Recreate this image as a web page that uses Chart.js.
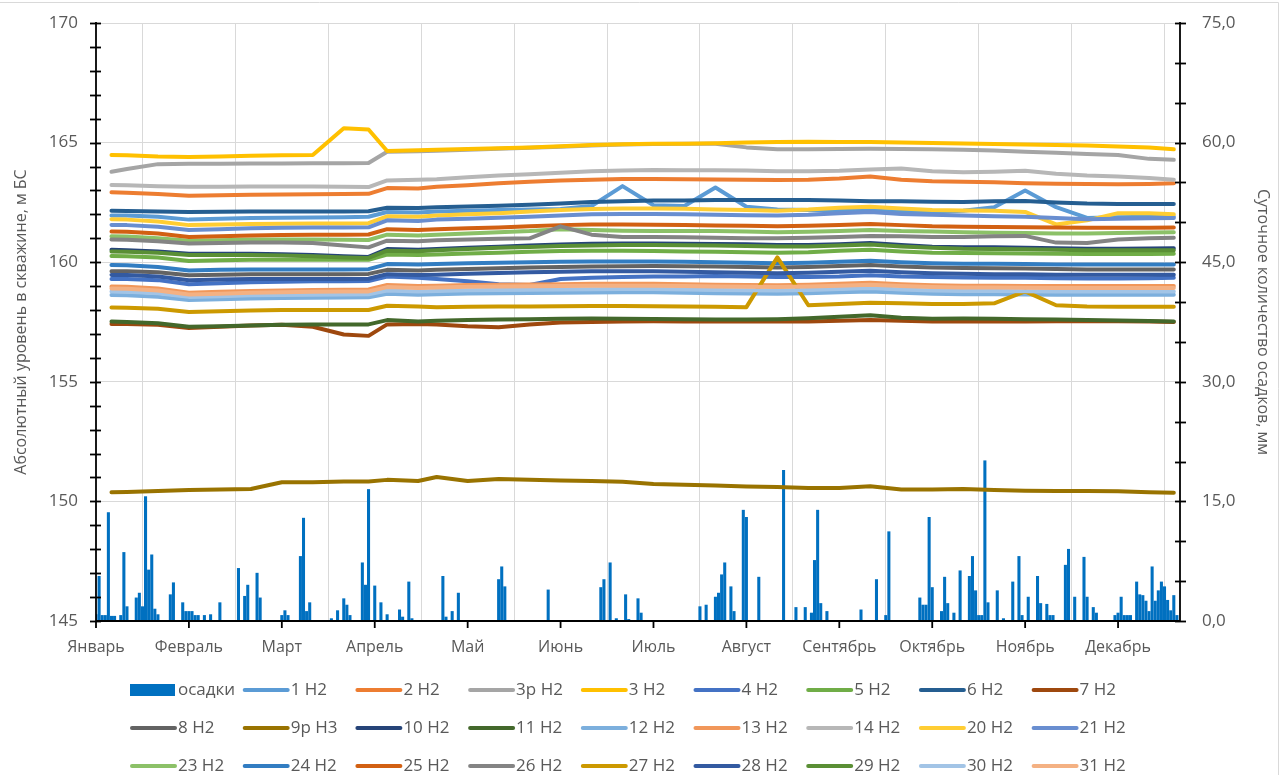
<!DOCTYPE html>
<html><head><meta charset="utf-8">
<script src="https://cdn.jsdelivr.net/npm/chart.js@4.4.1/dist/chart.umd.min.js"></script>
<style>html,body{margin:0;padding:0;background:#fff}#wrap{width:1284px;height:775px;position:relative}</style>
</head><body><div id="wrap"><canvas id="c"></canvas></div>
<script>
// ---- categories / ticks ----
const months = ['Январь','Февраль','Март','Апрель','Май','Июнь','Июль','Август','Сентябрь','Октябрь','Ноябрь','Декабрь'];
const monthStarts = [0,30,60,90,120,150,180,210,240,270,300,330];
const lineDays = [5,10,20,30,40,50,60,70,80,88,94,104,110,120,130,140,150,160,170,180,190,200,210,220,230,240,250,260,270,280,290,300,310,320,330,340,348];

// ---- precipitation (day index, mm) ----
const precipDay = [0,1,2,3,4,5,6,8,9,10,13,14,15,16,17,18,19,20,24,25,28,29,30,31,32,33,35,37,40,46,48,49,52,53,60,61,62,66,67,68,69,76,78,80,81,82,86,87,88,90,92,94,98,99,101,102,112,113,115,117,130,131,132,146,163,164,166,168,171,172,175,176,195,197,200,201,202,203,205,206,209,210,214,222,226,229,231,232,233,234,236,247,252,255,256,266,267,268,269,270,273,274,275,277,279,282,283,284,285,286,287,288,291,293,296,298,299,301,304,305,307,308,309,313,314,316,319,320,322,323,329,330,331,332,333,334,336,337,338,339,340,341,342,343,344,345,346,347,348,349];
const precipMm = [0.8,5.6,0.7,0.7,13.6,0.6,0.6,0.7,8.6,1.8,2.9,3.5,1.8,15.6,6.4,8.3,1.5,0.8,3.3,4.8,2.3,1.2,1.2,1.2,0.7,0.7,0.7,0.8,2.3,6.6,3.1,4.5,6.0,2.9,0.7,1.3,0.7,8.1,12.9,1.2,2.3,0.3,1.3,2.8,2.0,0.7,7.3,4.5,16.5,4.4,2.3,0.8,1.4,0.5,4.9,0.3,5.6,0.5,1.2,3.5,5.2,6.8,4.3,3.9,4.2,5.2,7.3,0.3,3.3,0.2,2.8,1.0,1.8,2.0,3.0,3.5,5.8,7.3,4.3,1.2,13.9,13.0,5.5,18.9,1.7,1.7,1.0,7.6,13.9,2.2,1.2,1.4,5.2,0.7,11.2,2.9,2.0,2.0,13.0,4.2,1.2,5.5,2.2,1.0,6.3,5.6,8.1,3.8,0.7,0.7,20.1,2.3,3.8,0.3,4.9,8.1,0.7,3.0,5.6,2.2,2.1,0.7,0.7,7.0,9.0,3.0,8.0,3.0,1.7,1.0,0.7,1.0,3.0,0.7,0.7,0.7,4.9,3.3,3.2,2.5,1.2,6.8,2.5,3.8,4.9,4.3,2.6,1.3,3.2,0.7];

// ---- well levels, m BS ----
const w1 = [161.95,161.95,161.90,161.78,161.82,161.85,161.86,161.87,161.88,161.90,162.10,162.08,162.12,162.15,162.18,162.20,162.22,162.35,163.18,162.38,162.35,163.12,162.32,162.20,162.18,162.15,162.15,162.12,162.10,162.15,162.30,163.00,162.30,161.85,161.88,161.90,161.90];
const w2 = [162.92,162.90,162.85,162.78,162.80,162.82,162.83,162.84,162.85,162.86,163.10,163.08,163.15,163.22,163.30,163.36,163.42,163.45,163.48,163.48,163.47,163.46,163.45,163.44,163.45,163.50,163.58,163.45,163.38,163.36,163.34,163.30,163.28,163.27,163.26,163.27,163.30];
const w3p = [163.78,163.90,164.10,164.12,164.12,164.13,164.13,164.14,164.14,164.15,164.62,164.64,164.66,164.70,164.74,164.78,164.83,164.88,164.92,164.94,164.95,164.95,164.80,164.72,164.72,164.73,164.74,164.73,164.72,164.70,164.67,164.62,164.58,164.52,164.48,164.32,164.28];
const w3 = [164.48,164.47,164.42,164.40,164.42,164.45,164.47,164.48,165.60,165.55,164.65,164.68,164.70,164.73,164.76,164.80,164.85,164.90,164.93,164.95,164.95,164.97,165.00,165.02,165.04,165.03,165.02,165.00,164.98,164.96,164.94,164.92,164.90,164.88,164.84,164.80,164.72];
const w4 = [159.30,159.30,159.25,159.08,159.12,159.16,159.18,159.20,159.20,159.21,159.40,159.35,159.30,159.20,159.08,159.05,159.30,159.35,159.38,159.40,159.40,159.42,159.40,159.38,159.38,159.40,159.45,159.40,159.38,159.36,159.35,159.35,159.33,159.32,159.32,159.33,159.35];
const w5 = [160.26,160.25,160.20,160.05,160.08,160.10,160.10,160.10,160.10,160.10,160.32,160.30,160.32,160.36,160.40,160.44,160.47,160.48,160.48,160.47,160.45,160.44,160.42,160.40,160.42,160.48,160.52,160.45,160.40,160.38,160.37,160.36,160.35,160.34,160.34,160.34,160.35];
const w6 = [162.15,162.14,162.12,162.10,162.11,162.12,162.12,162.12,162.12,162.13,162.28,162.27,162.30,162.33,162.36,162.40,162.45,162.52,162.55,162.58,162.58,162.60,162.60,162.60,162.60,162.58,162.55,162.55,162.53,162.52,162.55,162.56,162.50,162.45,162.43,162.43,162.43];
const w7 = [157.42,157.42,157.38,157.25,157.30,157.35,157.38,157.30,156.98,156.92,157.40,157.42,157.40,157.32,157.28,157.40,157.48,157.50,157.52,157.53,157.52,157.52,157.52,157.52,157.52,157.55,157.58,157.55,157.52,157.52,157.52,157.52,157.53,157.53,157.53,157.52,157.50];
const w8 = [159.62,159.62,159.58,159.45,159.48,159.50,159.50,159.50,159.50,159.51,159.68,159.65,159.68,159.72,159.75,159.78,159.80,159.82,159.83,159.84,159.83,159.82,159.80,159.78,159.80,159.84,159.88,159.82,159.78,159.76,159.75,159.74,159.72,159.70,159.70,159.70,159.70];
const w9p = [150.38,150.39,150.43,150.48,150.50,150.52,150.80,150.80,150.83,150.83,150.90,150.85,151.02,150.85,150.94,150.90,150.87,150.85,150.82,150.73,150.70,150.66,150.62,150.60,150.56,150.56,150.63,150.50,150.50,150.52,150.48,150.45,150.44,150.43,150.42,150.38,150.36];
const w10 = [160.52,160.50,160.45,160.35,160.35,160.35,160.33,160.30,160.25,160.22,160.55,160.52,160.55,160.60,160.65,160.70,160.74,160.77,160.78,160.78,160.77,160.76,160.75,160.72,160.72,160.75,160.80,160.72,160.65,160.62,160.62,160.60,160.58,160.56,160.56,160.57,160.58];
const w11 = [157.52,157.50,157.45,157.30,157.32,157.35,157.38,157.40,157.40,157.40,157.58,157.52,157.55,157.58,157.60,157.62,157.64,157.65,157.64,157.63,157.62,157.60,157.60,157.62,157.66,157.72,157.78,157.68,157.64,157.65,157.64,157.62,157.60,157.58,157.56,157.54,157.52];
const w12 = [158.63,158.62,158.56,158.42,158.45,158.48,158.50,158.51,158.52,158.53,158.68,158.64,158.66,158.69,158.70,158.71,158.72,158.73,158.74,158.74,158.72,158.70,158.69,158.68,158.70,158.74,158.78,158.72,158.68,158.66,158.66,158.65,158.64,158.64,158.64,158.64,158.64];
const w13 = [158.98,158.97,158.90,158.72,158.76,158.80,158.82,158.84,158.85,158.86,159.05,159.00,159.02,159.05,159.06,159.07,159.08,159.10,159.10,159.10,159.08,159.06,159.05,159.04,159.06,159.10,159.14,159.08,159.04,159.02,159.02,159.01,159.00,159.00,159.00,159.00,159.00];
const w14 = [163.23,163.22,163.18,163.15,163.15,163.16,163.16,163.16,163.15,163.14,163.42,163.45,163.47,163.55,163.62,163.68,163.74,163.80,163.83,163.85,163.84,163.84,163.83,163.80,163.80,163.82,163.88,163.92,163.80,163.76,163.78,163.82,163.70,163.62,163.58,163.52,163.45];
const w20 = [161.80,161.78,161.70,161.55,161.58,161.60,161.61,161.62,161.62,161.63,161.92,161.90,161.95,162.00,162.05,162.12,162.18,162.22,162.24,162.25,162.23,162.20,162.18,162.15,162.20,162.28,162.32,162.25,162.18,162.16,162.15,162.10,161.58,161.75,162.05,162.05,162.00];
const w21 = [161.56,161.55,161.48,161.35,161.38,161.42,161.44,161.45,161.45,161.46,161.75,161.72,161.78,161.82,161.86,161.90,161.95,162.00,162.02,162.02,162.00,161.98,161.96,161.95,161.98,162.05,162.10,162.02,161.98,161.95,161.92,161.90,161.85,161.80,161.82,161.84,161.85];
const w23 = [161.08,161.07,161.00,160.90,160.92,160.95,160.95,160.95,160.94,160.93,161.15,161.12,161.15,161.20,161.25,161.30,161.38,161.35,161.32,161.30,161.30,161.30,161.28,161.25,161.27,161.30,161.35,161.30,161.28,161.25,161.23,161.22,161.20,161.20,161.22,161.24,161.25];
const w24 = [159.88,159.87,159.80,159.65,159.68,159.70,159.70,159.70,159.70,159.71,159.92,159.90,159.92,159.96,159.98,160.00,160.02,160.03,160.03,160.03,160.02,160.00,159.98,159.96,159.98,160.02,160.06,160.00,159.96,159.94,159.93,159.92,159.90,159.90,159.90,159.90,159.90];
const w25 = [161.28,161.27,161.20,161.05,161.08,161.12,161.14,161.15,161.15,161.16,161.38,161.35,161.38,161.42,161.45,161.50,161.55,161.58,161.58,161.57,161.55,161.53,161.52,161.50,161.52,161.56,161.60,161.55,161.50,161.48,161.47,161.46,161.45,161.44,161.44,161.44,161.45];
const w26 = [160.95,160.94,160.88,160.78,160.80,160.82,160.82,160.80,160.70,160.62,160.90,160.88,160.92,160.95,160.98,161.00,161.50,161.15,161.05,161.05,161.04,161.02,161.00,161.00,161.02,161.05,161.10,161.08,161.05,161.05,161.08,161.10,160.82,160.80,160.95,161.00,161.02];
const w27 = [158.11,158.10,158.05,157.92,157.95,157.98,158.00,158.00,158.00,158.00,158.18,158.15,158.12,158.14,158.15,158.15,158.16,158.17,158.17,158.16,158.15,158.14,158.12,160.20,158.20,158.25,158.30,158.28,158.25,158.25,158.28,158.78,158.20,158.15,158.14,158.14,158.14];
const w28 = [159.47,159.46,159.40,159.25,159.28,159.30,159.30,159.30,159.30,159.31,159.50,159.46,159.48,159.52,159.55,159.58,159.60,159.62,159.62,159.62,159.60,159.58,159.56,159.54,159.56,159.60,159.64,159.58,159.54,159.52,159.50,159.50,159.48,159.48,159.48,159.48,159.48];
const w29 = [160.45,160.44,160.40,160.30,160.30,160.30,160.28,160.25,160.20,160.18,160.48,160.46,160.50,160.55,160.60,160.64,160.68,160.70,160.72,160.72,160.71,160.70,160.68,160.66,160.66,160.70,160.74,160.66,160.60,160.56,160.55,160.54,160.52,160.50,160.50,160.50,160.50];
const w30 = [158.77,158.76,158.70,158.55,158.58,158.62,158.63,158.64,158.65,158.66,158.82,158.78,158.80,158.83,158.84,158.85,158.86,158.87,158.88,158.88,158.86,158.84,158.83,158.82,158.84,158.88,158.92,158.86,158.82,158.80,158.80,158.79,158.78,158.78,158.78,158.78,158.78];
const w31 = [158.90,158.89,158.82,158.65,158.68,158.72,158.74,158.76,158.77,158.78,158.96,158.92,158.94,158.97,158.98,158.99,159.00,159.02,159.02,159.02,159.00,158.98,158.97,158.96,158.98,159.02,159.06,159.00,158.96,158.94,158.94,158.93,158.92,158.92,158.92,158.92,158.92];

const seriesNames = ['1 H2','2 H2','3р H2','3 H2','4 H2','5 H2','6 H2','7 H2','8 H2','9р H3','10 H2','11 H2','12 H2','13 H2','14 H2','20 H2','21 H2','23 H2','24 H2','25 H2','26 H2','27 H2','28 H2','29 H2','30 H2','31 H2'];
const seriesValues = [w1,w2,w3p,w3,w4,w5,w6,w7,w8,w9p,w10,w11,w12,w13,w14,w20,w21,w23,w24,w25,w26,w27,w28,w29,w30,w31];
const seriesColors = ['#5B9BD5','#ED7D31','#A5A5A5','#FFC000','#4472C4','#70AD47','#255E91','#9E480E','#636363','#997300','#264478','#43682B','#7CAFDD','#F1975A','#B7B7B7','#FFCD33','#698ED0','#8CC168','#327DC2','#D26012','#848484','#CC9900','#335AA1','#5A8F35','#A2C4E6','#F4B183'];
const barName = 'осадки', barColor = '#0070C0';

const FONT = '"Open Sans", "Noto Sans", sans-serif';
const TXT = '#595959';

const datasets = [{
  type:'bar', label:barName, data: precipDay.map((d,i)=>({x:d,y:precipMm[i]})),
  backgroundColor:barColor, yAxisID:'y2', barThickness:2.4, order:1000
}];
seriesNames.forEach((n,k)=>{
  datasets.push({type:'line', label:n, data: lineDays.map((d,i)=>({x:d,y:seriesValues[k][i]})),
    borderColor:seriesColors[k], backgroundColor:seriesColors[k], borderWidth:4, pointRadius:0,
    tension:0, borderJoinStyle:'round', borderCapStyle:'round', yAxisID:'y', order:100-k});
});

const deco = {
  id:'deco',
  beforeDraw(chart){
    const ctx = chart.ctx;
    ctx.save(); ctx.strokeStyle='#D9D9D9'; ctx.lineWidth=1;
    ctx.beginPath(); ctx.moveTo(0,2.5); ctx.lineTo(1278.5,2.5); ctx.lineTo(1278.5,775); ctx.stroke();
    ctx.restore();
  },
  afterDatasetsDraw(chart){
    const {ctx, chartArea:a, scales} = chart;
    const y=scales.y, y2=scales.y2, x=scales.x;
    ctx.save();
    ctx.strokeStyle='#000'; ctx.lineWidth=1.8; ctx.lineCap='butt';
    const L=(x1,y1,x2,y2_)=>{ctx.beginPath();ctx.moveTo(x1,y1);ctx.lineTo(x2,y2_);ctx.stroke();};
    L(a.left,a.top-1,a.left,a.bottom+1);
    for(let v=145; v<=170; v++){const p=Math.round(y.getPixelForValue(v))+0.5; L(a.left-6,p,a.left+5,p);}
    L(a.right,a.top-1,a.right,a.bottom+1);
    for(let v=0; v<=75; v+=5){const p=Math.round(y2.getPixelForValue(v))+0.5; L(a.right-5,p,a.right+6,p);}
    L(a.left,a.bottom,a.right,a.bottom);
    monthStarts.forEach(m=>{const p=x.getPixelForValue(m); L(p,a.bottom,p,a.bottom+7);});
    ctx.restore();
  },
  afterDraw(chart){
    const ctx = chart.ctx;
    ctx.save();
    ctx.font = '17px '+FONT; ctx.textBaseline='middle'; ctx.fillStyle=TXT;
    const items = [{t:barName,c:barColor,bar:true}].concat(seriesNames.map((n,k)=>({t:n,c:seriesColors[k]})));
    const x0=130, pitch=112.7, rows=[690,728,766];
    items.forEach((it,i)=>{
      const r=Math.floor(i/9), col=i%9, xx=x0+col*pitch, yy=rows[r];
      if(it.bar){ ctx.fillStyle=it.c; ctx.fillRect(xx,yy-6,45,12); }
      else { ctx.strokeStyle=it.c; ctx.lineWidth=4; ctx.lineCap='round'; ctx.beginPath(); ctx.moveTo(xx+2,yy); ctx.lineTo(xx+45,yy); ctx.stroke(); }
      ctx.fillStyle=TXT; ctx.fillText(it.t, xx+48, yy);
    });
    ctx.restore();
  }
};

new Chart(document.getElementById('c'), {
  data:{datasets},
  options:{
    responsive:true, maintainAspectRatio:false, animation:false,
    layout:{padding:{top:23,left:0,right:0,bottom:0}},
    plugins:{legend:{display:false}, tooltip:{enabled:false}},
    scales:{
      x:{type:'linear', min:0, max:350, offset:false,
        afterBuildTicks:s=>{s.ticks=monthStarts.map(v=>({value:v}));},
        afterFit:s=>{s.height=154; s.paddingLeft=0; s.paddingRight=0;},
        ticks:{autoSkip:false, maxRotation:0, padding:17, color:TXT, font:{family:FONT,size:16},
          callback:(v,i)=>months[i]},
        grid:{color:'#D9D9D9', lineWidth:1, drawTicks:false}, border:{display:false}},
      y:{position:'left', min:145, max:170,
        afterFit:s=>{s.width=96; s.paddingTop=0; s.paddingBottom=0;},
        ticks:{stepSize:5, padding:18, color:TXT, font:{family:FONT,size:17}},
        grid:{color:'#D9D9D9', lineWidth:1, drawTicks:false}, border:{display:false},
        title:{display:true, text:'Абсолютный уровень в скважине, м БС', color:TXT, font:{family:FONT,size:16}, padding:{top:12,bottom:0}}},
      y2:{position:'right', min:0, max:75,
        afterFit:s=>{s.width=104; s.paddingTop=0; s.paddingBottom=0;},
        ticks:{stepSize:15, padding:22, color:TXT, font:{family:FONT,size:17}, callback:v=>v.toFixed(1).replace('.',',')},
        grid:{drawOnChartArea:false, drawTicks:false}, border:{display:false},
        title:{display:true, text:'Суточное количество осадков, мм', color:TXT, font:{family:FONT,size:16}, padding:{top:12,bottom:0}}}
    }
  },
  plugins:[deco]
});
</script></body></html>
